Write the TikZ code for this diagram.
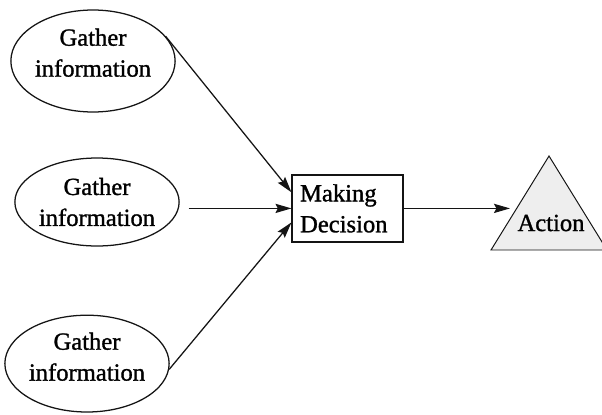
\documentclass[tikz,border=0pt]{standalone}
\usepackage{fontspec}
\setmainfont{Liberation Serif}[BoldFont=Liberation Serif, BoldFeatures={FakeBold=1.2}]
\usepackage{tikz}
\usetikzlibrary{shapes.geometric, arrows.meta, positioning, calc}
\definecolor{mydark}{RGB}{20,20,20}
\definecolor{mydots}{RGB}{238,238,238}
\tikzset{
  infonode/.style={ellipse, draw=mydark, fill=white,
    align=center, inner sep=0pt, line width=0.9pt,
    font=\fontsize{17.5}{22}\selectfont\bfseries},
  block/.style={rectangle, draw=mydark, fill=white,
    minimum width=2.775cm, minimum height=1.675cm,
    text width=2.375cm, align=left, inner sep=0pt,
    font=\fontsize{17.5}{22}\selectfont\bfseries, line width=0.9pt},
  actshape/.style={draw=mydark, fill=mydots, line width=0.7pt},
  arrow/.style={-{Stealth[length=4mm, width=2.3mm, inset=0.6mm]}, line width=0.9pt, color=mydark}
}

\begin{document}
\begin{tikzpicture}
  \useasboundingbox (0,0) rectangle (15.05,10.35);

  % Information sources
  \node[infonode, minimum width=3.9cm, minimum height=2.55cm] (e1) at (2.325, 8.825) {Gather\\information\rule[-0.42cm]{0pt}{0pt}};
  \node[infonode, minimum width=3.85cm, minimum height=2.2cm] (e2) at (2.425, 5.3) {Gather\\information};
  \node[infonode, minimum width=3.85cm, minimum height=2.42cm] (e3) at (2.175, 1.26) {Gather\\information\rule[-0.35cm]{0pt}{0pt}};

  % Decision
  \node[block] (md) at (8.69, 5.14) {Making\\Decision};

  % Action
  \draw[actshape] (12.275,4.1) coordinate (tl) -- (13.725,6.45) coordinate (tp) -- (15.175,4.1) coordinate (tr) -- cycle;
  \node[font=\fontsize{17.5}{22}\selectfont\bfseries] (act) at (13.775, 4.775) {Action};
  \coordinate (actin) at (12.75, 0);

  % Arrows
  \draw[arrow] (e1.19) -- (md.164);
  \draw[arrow, shorten <=0.22cm] (e2.east |- md.west) -- (md.west);
  \draw[arrow] (e3.-4) -- (md.194);
  \draw[arrow] (md.east) -- (md.east -| actin);
\end{tikzpicture}
\end{document}
